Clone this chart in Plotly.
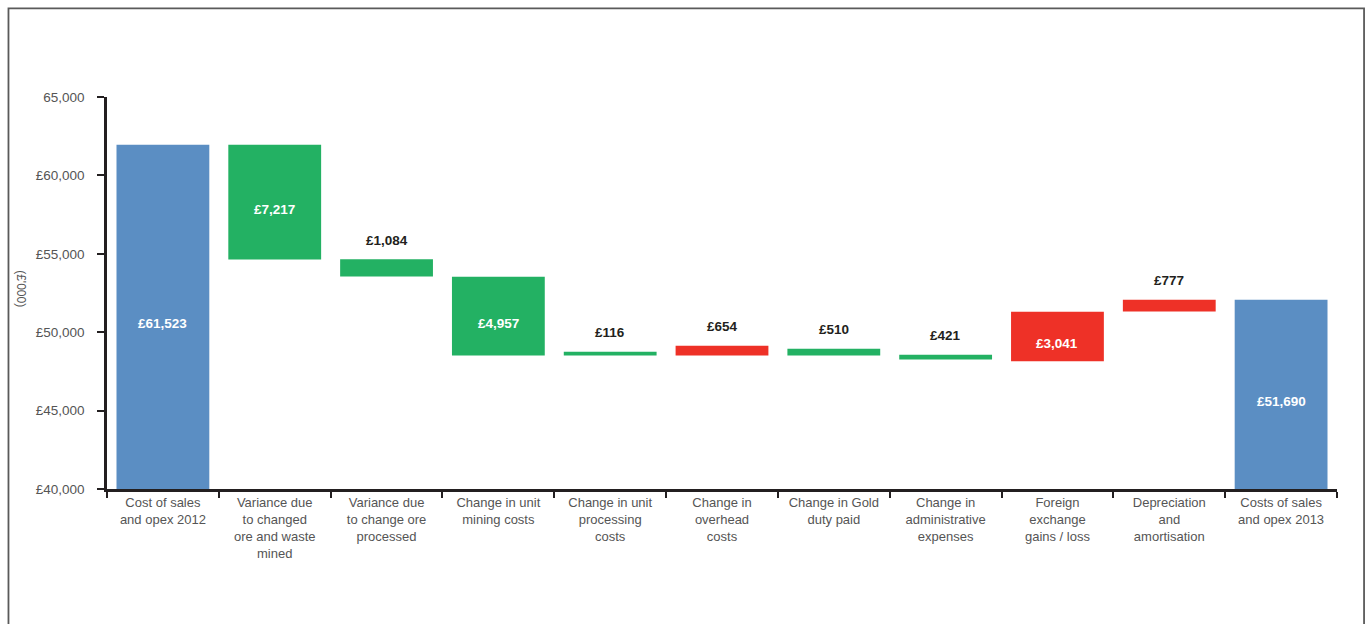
import plotly.graph_objects as go

categories = [
    "Cost of sales<br>and opex 2012",
    "Variance due<br>to changed<br>ore and waste<br>mined",
    "Variance due<br>to change ore<br>processed",
    "Change in unit<br>mining costs",
    "Change in unit<br>processing<br>costs",
    "Change in<br>overhead<br>costs",
    "Change in Gold<br>duty paid",
    "Change in<br>administrative<br>expenses",
    "Foreign<br>exchange<br>gains / loss",
    "Depreciation<br>and<br>amortisation",
    "Costs of sales<br>and opex 2013",
]
bar_low = [40000, 54643, 53559, 48520, 48520, 48520, 48520, 48265, 48140, 51327, 40000]
bar_high = [61958, 61958, 54660, 53540, 48756, 49140, 48950, 48565, 51307, 52073, 52073]
kind = ["total", "down", "down", "down", "down", "up", "down", "down", "up", "up", "total"]
labels = ["£61,523", "£7,217", "£1,084", "£4,957", "£116", "£654", "£510", "£421", "£3,041", "£777", "£51,690"]
label_inside = [True, True, False, True, False, False, False, False, True, False, True]

tick_vals = [40000, 45000, 50000, 55000, 60000, 65000]
tick_text = ["£40,000", "£45,000", "£50,000", "£55,000", "£60,000", "65,000"]

colour_map = {"total": "#5B8EC3", "down": "#23B163", "up": "#EE3127"}
colours = [colour_map[k] for k in kind]

fig = go.Figure()
fig.add_trace(go.Bar(
    x=categories,
    y=[h - l for h, l in zip(bar_high, bar_low)],
    base=bar_low,
    marker=dict(color=colours, line=dict(width=0)),
    width=0.83,
    hoverinfo="skip",
))

font_family = "Liberation Sans, Arial, sans-serif"
for i, (lab, inside) in enumerate(zip(labels, label_inside)):
    if inside:
        fig.add_annotation(x=categories[i], y=(bar_low[i] + bar_high[i]) / 2, text="<b>" + lab + "</b>",
                           showarrow=False, yshift=-7,
                           font=dict(family=font_family, size=13.5, color="white"))
    else:
        fig.add_annotation(x=categories[i], y=bar_high[i], text="<b>" + lab + "</b>",
                           showarrow=False, yshift=19,
                           font=dict(family=font_family, size=13.5, color="#231F20"))

fig.add_annotation(xref="paper", yref="paper", x=-0.0695, y=0.511, text="(£'000)",
                   xanchor="center", yanchor="middle",
                   textangle=90, showarrow=False,
                   font=dict(family=font_family, size=12, color="#555555"))

# outer frame
fig.add_shape(type="rect", xref="paper", yref="paper", x0=-0.0801, x1=1.022, y0=-0.6, y1=1.226,
              line=dict(color="#5A5A5A", width=1.8), fillcolor="rgba(0,0,0,0)", layer="below")

fig.update_layout(
    width=1369, height=624,
    margin=dict(l=107, r=32, t=97, b=135),
    paper_bgcolor="white", plot_bgcolor="white",
    showlegend=False,
    font=dict(family=font_family, size=13, color="#555555"),
    xaxis=dict(
        type="category",
        showline=True, linecolor="#231F20", linewidth=2.5,
        ticks="outside", tickson="boundaries", ticklen=6, tickwidth=2, tickcolor="#231F20",
        showgrid=False, zeroline=False, tickangle=0,
        tickfont=dict(family=font_family, size=13, color="#555555"),
    ),
    yaxis=dict(
        range=[40000, 65000],
        tickmode="array", tickvals=tick_vals, ticktext=tick_text,
        showline=True, linecolor="#231F20", linewidth=2.5,
        ticks="outside", ticklen=7, tickwidth=1.5, tickcolor="#231F20",
        ticklabelstandoff=10,
        showgrid=False, zeroline=False,
        tickfont=dict(family=font_family, size=13.5, color="#555555"),
    ),
)

fig.write_html("out.html",
               config={"displayModeBar": False},
               post_script="document.body.style.margin='0';document.body.style.overflow='hidden';")
